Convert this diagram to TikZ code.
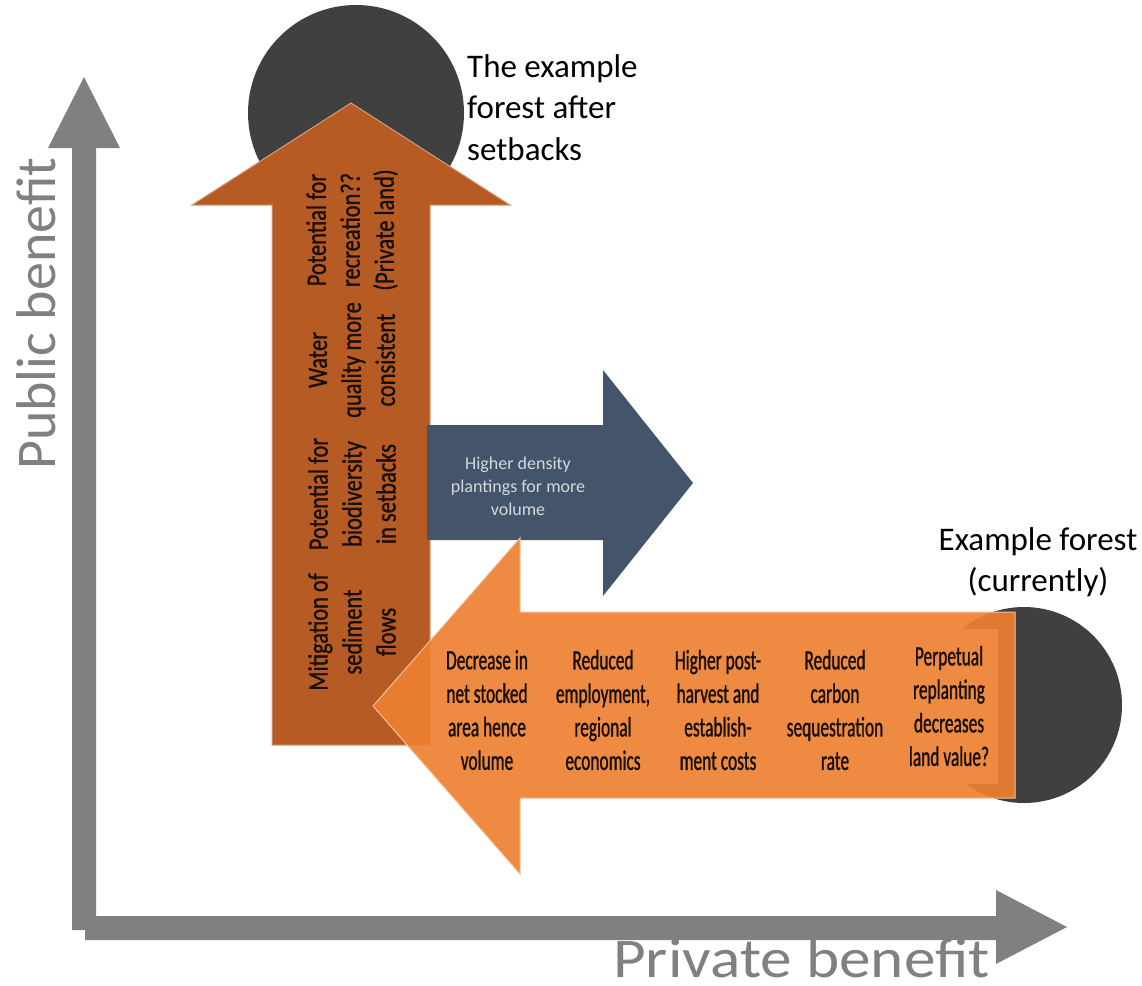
\documentclass[tikz,border=0pt]{standalone}
\usepackage{fontspec}
\setmainfont{Carlito}
\newfontfamily\narrowfont[FakeStretch=0.62,FakeBold=1]{Carlito}
\newfontfamily\tallnarrowfont[FakeStretch=0.8,FakeBold=1]{Carlito}
\newfontfamily\wideaxisfont[FakeStretch=1.13]{Carlito}
\definecolor{brownarrow}{RGB}{183,91,36}
\definecolor{orangearrow}{RGB}{237,128,50}
\definecolor{bluearrow}{RGB}{68,84,106}
\definecolor{forestgray}{RGB}{64,64,64}
\definecolor{axisgray}{RGB}{128,128,128}
\definecolor{bluetext}{RGB}{212,216,222}
\definecolor{arrowtext}{RGB}{25,15,10}

\begin{document}
\begin{tikzpicture}[x=1pt,y=-1pt]

\tikzstyle{axis} = [fill=axisgray]
\tikzstyle{axislabel} = [text=axisgray, inner sep=0, font=\fontsize{56}{60}\selectfont]
\tikzstyle{forest} = [fill=forestgray]
\tikzstyle{brown_block} = [fill=brownarrow, draw=brownarrow!60!white, line width=1]
\tikzstyle{blue_block} = [fill=bluearrow]
\tikzstyle{orange_block} = [fill=orangearrow, fill opacity=0.92, draw=orangearrow!50!white, line width=1]
\tikzstyle{caption} = [inner sep=0, text=black, font=\fontsize{33}{41.5}\selectfont]
\tikzstyle{vtext} = [inner sep=0, align=center, rotate=90, text=arrowtext,
font=\tallnarrowfont\fontsize{28}{34}\selectfont]
\tikzstyle{htext} = [inner sep=0, align=center, text=arrowtext,
font=\narrowfont\fontsize{28}{33.5}\selectfont]

\useasboundingbox (0,0) rectangle (1142,985);

% axes
\fill[axis] (72,930) -- (72,148) -- (48,148) -- (84,77) -- (120,148) -- (96,148) -- (96,930) -- cycle;
\fill[axis] (85,916) -- (996,916) -- (996,890) -- (1067,927) -- (996,964) -- (996,940) -- (85,940) -- cycle;
\node[axislabel, rotate=90, anchor=base west] (public) at (55,470) {Public benefit};
\node[axislabel, font=\wideaxisfont\fontsize{56}{60}\selectfont, anchor=base east] (private) at (990,977) {Private benefit};

% the two forests
\fill[forest] (356,113) circle (108pt);
\fill[forest] (1024,705) circle (98pt);
\node[caption, align=left, anchor=north west] (after) at (467,54) {The example\\forest after\\setbacks};
\node[caption, align=center, anchor=north] (current) at (1038,527) {Example forest\\(currently)};

% public side: up arrow
\filldraw[brown_block] (272,745) -- (272,205) -- (192,205) -- (351,103) -- (510,205) -- (430,205) -- (430,745) -- cycle;
\node[vtext] (sediment) at (352,632) {Mitigation of\\sediment\\flows};
\node[vtext] (biodiv) at (352,494) {Potential for\\biodiversity\\in setbacks};
\node[vtext] (water) at (352,360) {Water\\quality more\\consistent};
\node[vtext] (recreation) at (352,230) {Potential for\\recreation??\\(Private land)};

% higher density
\fill[blue_block] (427,425) -- (603,425) -- (603,370) -- (693,483) -- (603,596) -- (603,540) -- (427,540) -- cycle;
\node[inner sep=0, align=center, text=bluetext, font=\fontsize{18}{23}\selectfont, anchor=north] (density) at (518,457) {Higher density\\plantings for more\\volume};

% private side: left arrow
\filldraw[orange_block] (1015,612) -- (520,612) -- (520,538) -- (373,706) -- (520,874) -- (520,798) -- (1015,798) -- cycle;
\node[htext] (stocked) at (487,710) {Decrease in\\net stocked\\area hence\\volume};
\node[htext] (employment) at (603,710) {Reduced\\employment,\\regional\\economics};
\node[htext] (costs) at (718,710) {Higher post-\\harvest and\\establish-\\ment costs};
\node[htext] (carbon) at (835,710) {Reduced\\carbon\\sequestration\\rate};
\node[htext, fill=orangearrow!92!white, minimum width=97, minimum height=155] (landvalue) at (949,706) {Perpetual\\replanting\\decreases\\land value?};

\end{tikzpicture}
\end{document}
